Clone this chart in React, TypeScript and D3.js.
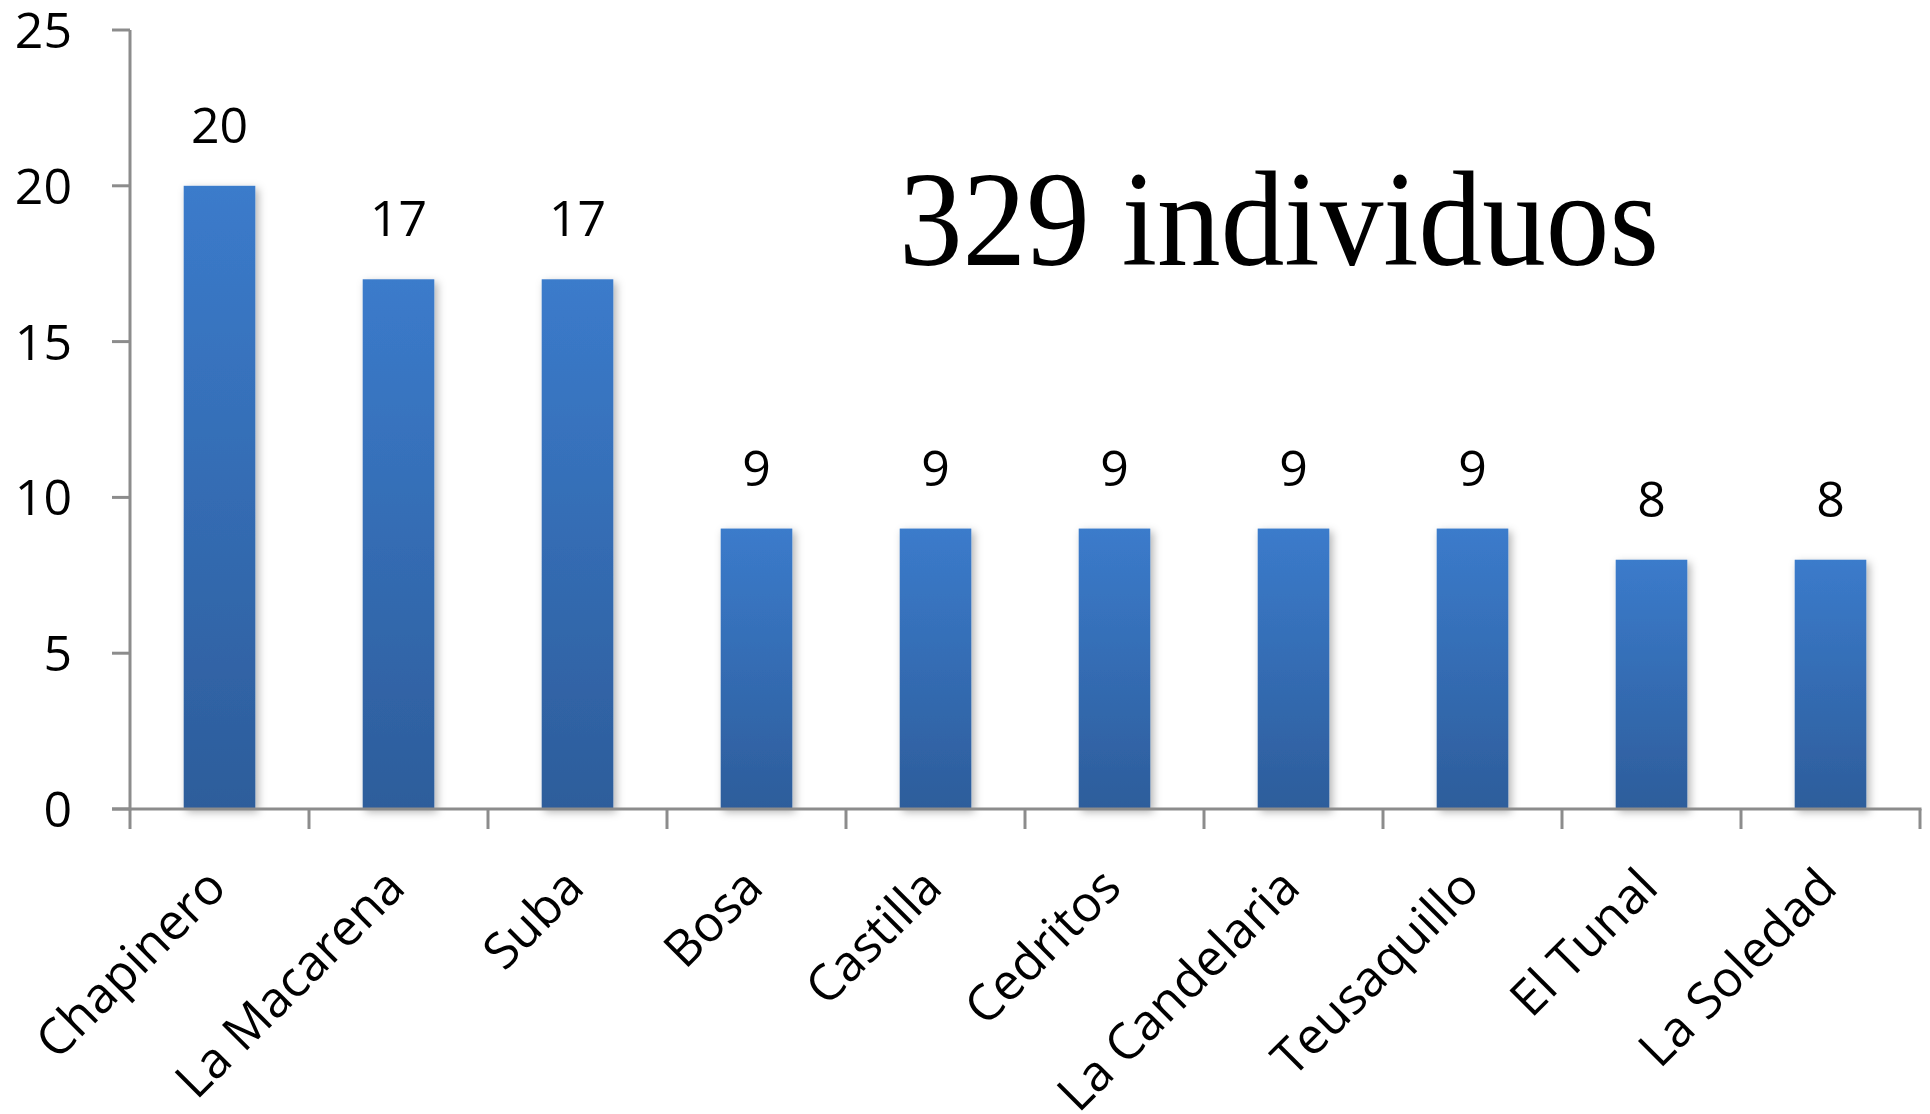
import React from "react";
import * as d3 from "d3";

const categories = ["Chapinero", "La Macarena", "Suba", "Bosa", "Castilla", "Cedritos", "La Candelaria", "Teusaquillo", "El Tunal", "La Soledad"];
const values = [20, 17, 17, 9, 9, 9, 9, 9, 8, 8];
const yTicks = [0, 5, 10, 15, 20, 25];
const title = "329 individuos";

const W = 1930;
const H = 1114;
const left = 130;
const right = 1920;
const top = 30;
const bottom = 809;

export default function App() {
  const xb = d3.scaleBand<string>().domain(categories).range([left, right]).padding(0);
  const y = d3.scaleLinear().domain([0, 25]).range([bottom, top]);
  const axisColor = "#8c8c8c";
  const font = "'Open Sans', 'Noto Sans', sans-serif";
  const boundaries = categories.map((c) => xb(c) as number).concat([right]);
  const barW = xb.bandwidth() * 0.4;

  return (
    <>
      <style>{`body{margin:0}`}</style>
      <svg width={W} height={H} style={{ display: "block", background: "#fff" }}>
        <defs>
          <linearGradient id="barGrad" x1="0" y1="0" x2="0" y2="1">
            <stop offset="0%" stopColor="#3b7bcb" />
            <stop offset="100%" stopColor="#2d5d9b" />
          </linearGradient>
          <filter id="shadow" x="-20%" y="-5%" width="140%" height="110%">
            <feDropShadow dx="3" dy="3" stdDeviation="4" floodColor="#000" floodOpacity="0.3" />
          </filter>
        </defs>

        {/* bars */}
        {categories.map((c, i) => {
          const bx = xb(c)! + xb.bandwidth() / 2 - barW / 2;
          return (
            <rect key={c} x={bx} y={y(values[i])} width={barW} height={bottom - y(values[i])} fill="url(#barGrad)" filter="url(#shadow)" />
          );
        })}

        {/* axes */}
        <line x1={left} x2={left} y1={top} y2={bottom + 1.5} stroke={axisColor} strokeWidth={3} />
        {yTicks.map((t) => (
          <line key={"yt" + t} x1={112} x2={left} y1={y(t)} y2={y(t)} stroke={axisColor} strokeWidth={3} />
        ))}
        <line x1={112} x2={right + 1.5} y1={bottom} y2={bottom} stroke={axisColor} strokeWidth={3} />
        {boundaries.map((b, i) => (
          <line key={"xt" + i} x1={b} x2={b} y1={bottom} y2={829} stroke={axisColor} strokeWidth={3} />
        ))}

        {/* y tick labels */}
        {yTicks.map((t) => (
          <text key={"yl" + t} x={72} y={y(t) + 18} textAnchor="end" fontFamily={font} fontSize={50} fill="#000">
            {t}
          </text>
        ))}

        {/* value labels */}
        {categories.map((c, i) => (
          <text key={"v" + c} x={xb(c)! + xb.bandwidth() / 2} y={y(values[i]) - 43} textAnchor="middle" fontFamily={font} fontSize={50} fill="#000">
            {values[i]}
          </text>
        ))}

        {/* category labels */}
        {categories.map((c) => {
          const cx = xb(c)! + xb.bandwidth() / 2 + 9;
          const cy = 890;
          return (
            <text key={"c" + c} x={cx} y={cy} transform={`rotate(-45 ${cx} ${cy})`} textAnchor="end" fontFamily={font} fontSize={50} fill="#000">
              {c}
            </text>
          );
        })}

        {/* annotation */}
        <text x={899} y={265} fontFamily="'Liberation Serif', 'DejaVu Serif', serif" fontSize={135} textLength={760} lengthAdjust="spacingAndGlyphs" fill="#000">
          {title}
        </text>
      </svg>
    </>
  );
}
